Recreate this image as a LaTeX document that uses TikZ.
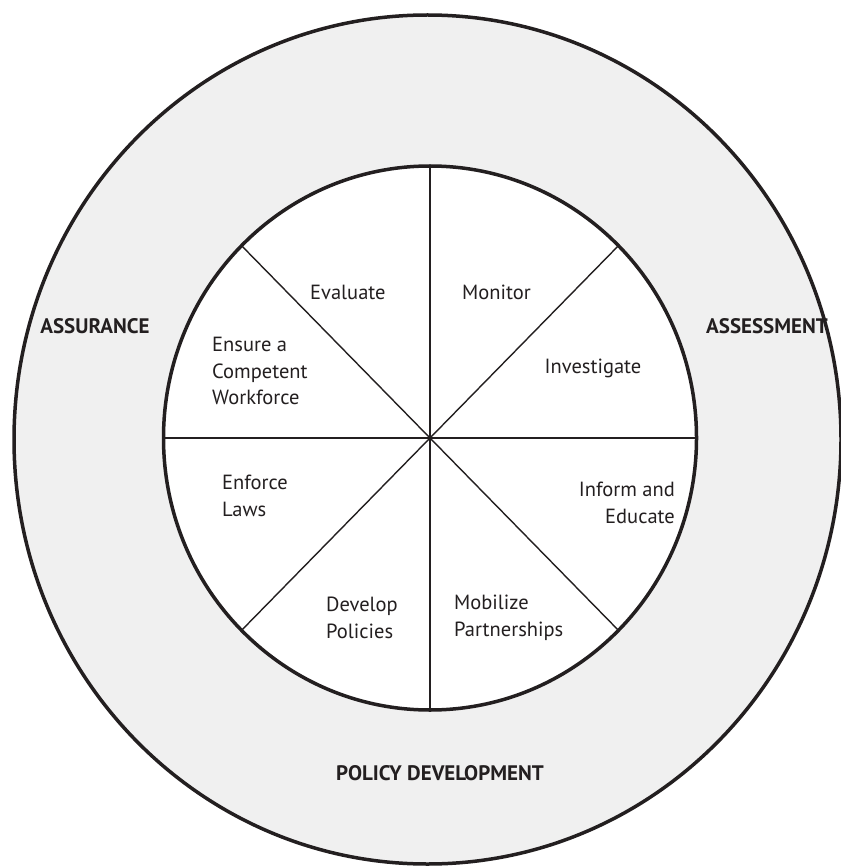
\documentclass[tikz,border=0pt]{standalone}
\usepackage{fontspec}
\setmainfont{PT Sans}
\definecolor{ink}{HTML}{231F20}
\definecolor{ring}{HTML}{F0F0F0}
\begin{document}
\begin{tikzpicture}[x=1pt,y=-1pt,
  lbl/.style={font=\fontsize{20.5}{26.5}\selectfont, text=ink, inner sep=0pt, align=left},
  phase/.style={font=\fontsize{21}{24}\selectfont\bfseries, text=ink, inner sep=0pt},
  rim/.style={draw=ink, line width=3.5pt},
  spoke/.style={draw=ink, line width=1.4pt}]
\useasboundingbox (0,0) rectangle (840,866);
\coordinate (oc) at (427.5,439.5);
\coordinate (ic) at (430,438);
\fill[ring] (oc) ellipse [x radius=413.5pt, y radius=424.5pt];
\draw[rim] (oc) ellipse [x radius=413.5pt, y radius=424.5pt];
\fill[white] (ic) ellipse [x radius=266.5pt, y radius=272pt];
\foreach \a in {0,45,...,315} {
  \draw[spoke] (ic) -- ++({266.5*cos(\a)},{272*sin(\a)}) coordinate (s\a);
}
\draw[rim] (ic) ellipse [x radius=266.5pt, y radius=272pt];
\node[lbl, anchor=west] (evaluate) at (310,292) {Evaluate};
\node[lbl, anchor=west] (monitor) at (462,292) {Monitor};
\node[lbl] (investigate) at (593,368) {Investigate};
\node[lbl, anchor=west] (ensure) at (212,371) {Ensure a\\Competent\\Workforce};
\node[lbl, anchor=west] (enforce) at (222,496) {Enforce\\Laws};
\node[lbl, anchor=east, align=right] (inform) at (675,503) {Inform and\\Educate};
\node[lbl, anchor=west] (develop) at (326,618) {Develop\\Policies};
\node[lbl, anchor=west] (mobilize) at (454,618) {Mobilize\\Partnerships};
\node[phase] (assurance) at (95,326) {ASSURANCE};
\node[phase] (assessment) at (767,326) {ASSESSMENT};
\node[phase] (policy) at (440,773) {POLICY DEVELOPMENT};
\end{tikzpicture}
\end{document}
